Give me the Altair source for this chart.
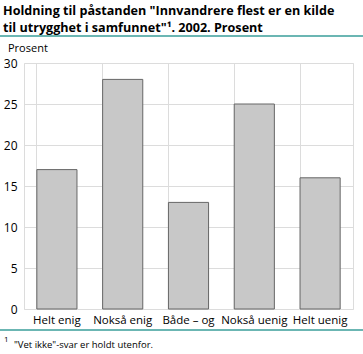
import altair as alt
import pandas as pd

categories = ["Helt enig", "Nokså enig", "Både – og", "Nokså uenig", "Helt uenig"]
values = [17, 28, 13, 25, 16]
y_ticks = [0, 5, 10, 15, 20, 25, 30]

title_line1 = 'Holdning til påstanden "Innvandrere flest er en kilde'
title_line2 = 'til utrygghet i samfunnet"¹. 2002. Prosent'
y_title = "Prosent"
footnote_num = "1"
footnote_text = '"Vet ikke"-svar er holdt utenfor.'

df = pd.DataFrame({"kat": categories, "verdi": values})

W, H = 329, 246
FONT = "Open Sans"
TEAL = "#3a9e9a"

x_enc = alt.X("kat:N", sort=categories,
              scale=alt.Scale(paddingInner=0.39, paddingOuter=0.195),
              axis=alt.Axis(title=None, labelAngle=0, labelFont=FONT, labelFontSize=11.5,
                            labelColor="#000", labelPadding=5, ticks=False, domain=False,
                            grid=True, bandPosition=0, gridColor="#dcdcdc"))
y_enc = alt.Y("verdi:Q", scale=alt.Scale(domain=[0, 30], nice=False),
              axis=alt.Axis(title=None, values=y_ticks, labelFont=FONT, labelFontSize=12,
                            labelColor="#000", labelPadding=7, ticks=False, domain=False,
                            grid=True, gridColor="#dcdcdc"))

bars = alt.Chart(df).mark_bar(color="#c8c8c8", stroke="#666666", strokeWidth=1).encode(
    x=x_enc, y=y_enc)

def txt(s, x, y, size=11, weight="normal", align="left"):
    return alt.Chart(pd.DataFrame({"t": [s]})).mark_text(
        align=align, baseline="alphabetic", font=FONT, fontSize=size,
        fontWeight=weight, color="#000").encode(
        text="t:N", x=alt.value(x), y=alt.value(y))

L = 24
T = 63
texts = [
    txt(title_line1, 3 - L, 15 - T, 12.6, "bold"),
    txt(title_line2, 3 - L, 32 - T, 12.6, "bold"),
    txt(y_title, 8 - L, 52 - T, 11),
    txt(footnote_num, 4 - L, 342 - T, 8),
    txt(footnote_text, 14 - L, 348 - T, 9.5),
]

rule_top = alt.Chart(pd.DataFrame({"a": [0]})).mark_rule(color=TEAL, strokeWidth=1.5).encode(
    x=alt.value(0 - L), x2=alt.value(363 - L), y=alt.value(36 - T))
rule_bot = alt.Chart(pd.DataFrame({"a": [0]})).mark_rule(color=TEAL, strokeWidth=1.5).encode(
    x=alt.value(0 - L), x2=alt.value(363 - L), y=alt.value(330 - T))

chart = alt.layer(bars, rule_top, rule_bot, *texts).properties(
    width=W, height=H,
    autosize=alt.AutoSizeParams(type="none"),
    padding={"left": L, "top": T, "right": 363 - L - W, "bottom": 354 - T - H},
    background="white",
).configure_view(stroke="#dcdcdc", strokeWidth=1)

chart.save("out.html", embed_options={"renderer": "svg", "actions": False})
